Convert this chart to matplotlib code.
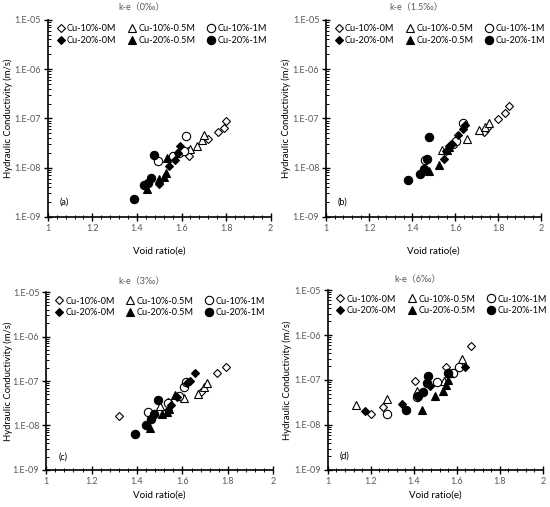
import matplotlib
matplotlib.use("Agg")
import matplotlib.pyplot as plt
from matplotlib.ticker import FixedLocator, FuncFormatter, MultipleLocator, LogLocator, NullFormatter
import numpy as np

plt.rcParams['font.family'] = ['Lato', 'Noto Sans CJK SC', 'DejaVu Sans']

series_labels = ["Cu-10%-0M", "Cu-10%-0.5M", "Cu-10%-1M",
                 "Cu-20%-0M", "Cu-20%-0.5M", "Cu-20%-1M"]
titles = ["k-e（0‰）", "k-e（1.5‰）", "k-e（3‰）", "k-e（6‰）"]
panel_tags = ["(a)", "(b)", "(c)", "(d)"]
x_ticks = [1, 1.2, 1.4, 1.6, 1.8, 2]
y_ticks = [1e-9, 1e-8, 1e-7, 1e-6, 1e-5]

# Panel (a) 0‰ — order follows series_labels
void_a = [
    [1.63, 1.635, 1.72, 1.765, 1.79, 1.80],
    [1.64, 1.67, 1.69, 1.70],
    [1.495, 1.56, 1.59, 1.61, 1.62],
    [1.44, 1.50, 1.545, 1.57, 1.585, 1.595],
    [1.445, 1.50, 1.52, 1.53, 1.535],
    [1.385, 1.43, 1.45, 1.465, 1.475],
]
k_a = [
    [2.2e-8, 1.7e-8, 3.9e-8, 5.4e-8, 6.5e-8, 9.0e-8],
    [2.4e-8, 2.8e-8, 3.6e-8, 4.6e-8],
    [1.35e-8, 1.7e-8, 2.0e-8, 2.2e-8, 4.4e-8],
    [4.5e-9, 4.7e-9, 1.1e-8, 1.4e-8, 2.0e-8, 2.7e-8],
    [3.7e-9, 6.0e-9, 6.5e-9, 7.9e-9, 1.55e-8],
    [2.35e-9, 4.4e-9, 5.0e-9, 6.2e-9, 1.8e-8],
]

# Panel (b) 1.5‰
void_b = [
    [1.735, 1.75, 1.80, 1.83, 1.85],
    [1.54, 1.655, 1.71, 1.74, 1.755],
    [1.46, 1.59, 1.605, 1.635],
    [1.55, 1.555, 1.57, 1.585, 1.615, 1.635, 1.645],
    [1.48, 1.525, 1.56, 1.57],
    [1.38, 1.435, 1.455, 1.47, 1.48],
]
k_b = [
    [5.4e-8, 6.5e-8, 9.8e-8, 1.29e-7, 1.75e-7],
    [2.3e-8, 3.8e-8, 5.8e-8, 6.8e-8, 8.0e-8],
    [1.45e-8, 3.0e-8, 3.4e-8, 8.0e-8],
    [1.5e-8, 2.2e-8, 2.8e-8, 3.0e-8, 4.5e-8, 6.0e-8, 7.5e-8],
    [8.5e-9, 1.13e-8, 2.3e-8, 2.6e-8],
    [5.6e-9, 7.4e-9, 9.4e-9, 1.48e-8, 4.1e-8],
]

# Panel (c) 3‰
void_c = [
    [1.32, 1.535, 1.68, 1.75, 1.79],
    [1.50, 1.605, 1.67, 1.695, 1.71],
    [1.45, 1.535, 1.585, 1.605, 1.615],
    [1.535, 1.55, 1.575, 1.62, 1.635, 1.655],
    [1.455, 1.51, 1.53, 1.54, 1.565],
    [1.39, 1.44, 1.46, 1.475, 1.49],
]
k_c = [
    [1.65e-8, 3.3e-8, 5.7e-8, 1.48e-7, 2.1e-7],
    [2.7e-8, 4.1e-8, 5.0e-8, 7.4e-8, 9.0e-8],
    [2.0e-8, 3.2e-8, 4.6e-8, 7.2e-8, 9.6e-8],
    [2.2e-8, 2.9e-8, 4.4e-8, 9.0e-8, 1.0e-7, 1.48e-7],
    [8.7e-9, 1.85e-8, 2.0e-8, 2.3e-8, 4.8e-8],
    [6.3e-9, 1.0e-8, 1.4e-8, 1.8e-8, 3.7e-8],
]

# Panel (d) 6‰
void_d = [
    [1.20, 1.255, 1.405, 1.55, 1.665],
    [1.13, 1.275, 1.415, 1.54, 1.625],
    [1.275, 1.415, 1.51, 1.58, 1.61],
    [1.175, 1.345, 1.475, 1.64],
    [1.44, 1.50, 1.535, 1.55, 1.56, 1.565],
    [1.365, 1.42, 1.445, 1.46, 1.465, 1.56],
]
k_d = [
    [1.8e-8, 2.5e-8, 9.5e-8, 1.9e-7, 5.8e-7],
    [2.8e-8, 3.8e-8, 5.8e-8, 9.5e-8, 3.0e-7],
    [1.75e-8, 4.2e-8, 9.0e-8, 1.4e-7, 1.9e-7],
    [2.0e-8, 2.9e-8, 7.5e-8, 1.95e-7],
    [2.1e-8, 4.5e-8, 5.7e-8, 7.6e-8, 1.0e-7, 1.4e-7],
    [2.1e-8, 4.4e-8, 5.4e-8, 8.4e-8, 1.2e-7, 1.4e-7],
]

markers = ['D', '^', 'o', 'D', '^', 'o']
msizes = [4.0, 5.5, 6.0, 4.3, 5.5, 6.0]
faces = ['white', 'white', 'white', 'black', 'black', 'black']

fig = plt.figure(figsize=(5.5, 5.07), dpi=100)
positions = [
    [0.087, 0.572, 0.405, 0.389],
    [0.593, 0.572, 0.391, 0.389],
    [0.084, 0.073, 0.413, 0.351],
    [0.596, 0.073, 0.391, 0.355],
]
ylabel_x = [-0.155, -0.165, -0.145, -0.165]
voids = [void_a, void_b, void_c, void_d]
ks = [k_a, k_b, k_c, k_d]
xlabelpads = [10, 10, 3, 3]
gray = '#595959'

def yfmt(v, pos):
    exp = int(round(np.log10(v)))
    return "1.E-%02d" % (-exp)

for i in range(4):
    ax = fig.add_axes(positions[i])
    handles = []
    for j in range(6):
        h, = ax.plot(voids[i][j], ks[i][j], linestyle='none', marker=markers[j],
                     markersize=msizes[j], markerfacecolor=faces[j],
                     markeredgecolor='black', markeredgewidth=0.8,
                     label=series_labels[j])
        handles.append(h)
    ax.set_yscale('log')
    ax.set_xlim(1, 2)
    ax.set_ylim(1e-9, 1e-5)
    ax.xaxis.set_major_locator(FixedLocator(x_ticks))
    ax.xaxis.set_minor_locator(MultipleLocator(0.04))
    ax.yaxis.set_major_locator(FixedLocator(y_ticks))
    ax.yaxis.set_minor_locator(LogLocator(base=10, subs=np.arange(2, 10)))
    ax.yaxis.set_minor_formatter(NullFormatter())
    ax.yaxis.set_major_formatter(FuncFormatter(yfmt))
    ax.xaxis.set_major_formatter(FuncFormatter(lambda v, p: ("%g" % v)))
    for s in ['top', 'right']:
        ax.spines[s].set_visible(False)
    for s in ['left', 'bottom']:
        ax.spines[s].set_linewidth(1.2)
    ax.tick_params(axis='both', which='major', direction='inout', length=6,
                   width=1.0, labelsize=6.5, labelcolor=gray, pad=2)
    ax.tick_params(axis='y', which='minor', direction='in', length=2.5, width=0.7)
    ax.tick_params(axis='x', which='minor', direction='inout', length=3, width=0.7)
    ax.set_xlabel("Void ratio(e)", fontsize=7, labelpad=xlabelpads[i])
    ax.set_ylabel("Hydraulic Conductivity (m/s)", fontsize=6.8)
    ax.yaxis.set_label_coords(ylabel_x[i], 0.5)
    ax.text(0.42, 1.06, titles[i], transform=ax.transAxes, ha='center',
            va='center', fontsize=6.5, color=gray)
    ax.text(0.055, 0.075, panel_tags[i], transform=ax.transAxes, ha='left',
            va='center', fontsize=6.5)
    order = [0, 3, 1, 4, 2, 5]
    ax.legend([handles[o] for o in order], [series_labels[o] for o in order],
              ncol=3, loc='upper left', bbox_to_anchor=(0.02, 1.0),
              frameon=False, fontsize=6.6, handlelength=0.8,
              handletextpad=0.3, columnspacing=1.3, labelspacing=0.3,
              borderaxespad=0.3, borderpad=0.2)

fig.savefig("out.png", dpi=100)
